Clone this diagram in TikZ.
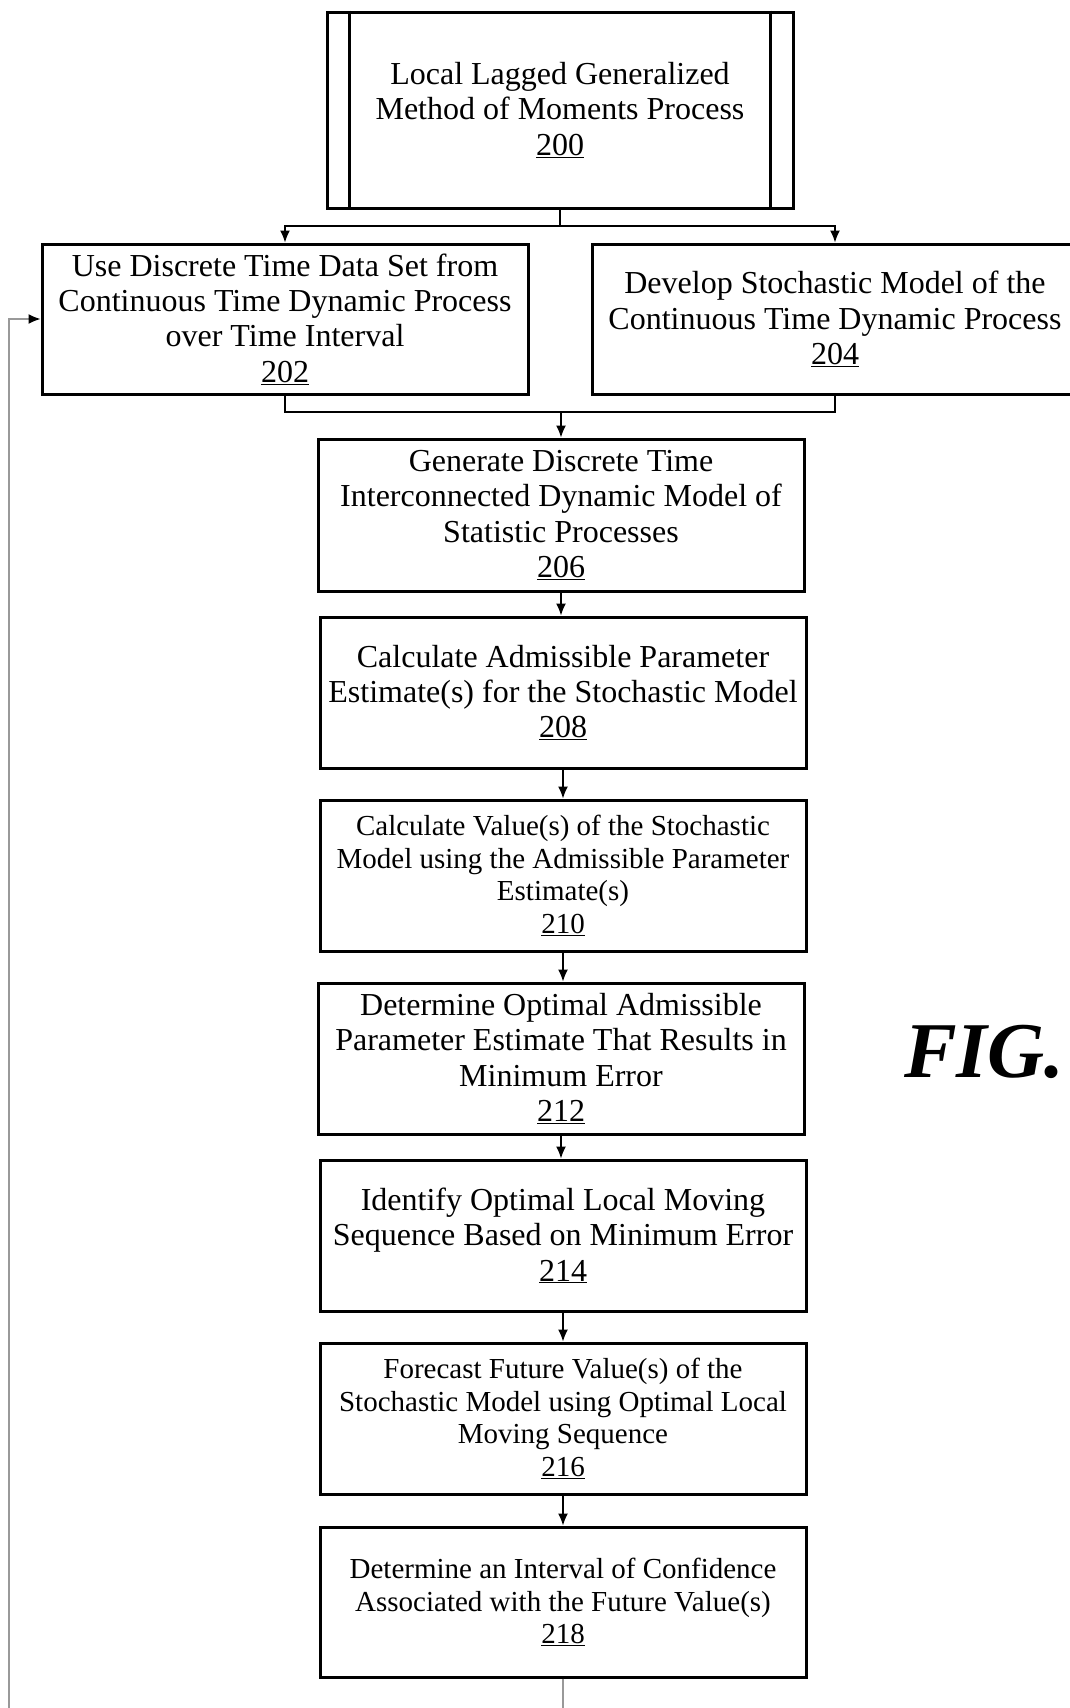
\documentclass[tikz,border=0pt]{standalone}
\usepackage{fontspec}
\setmainfont{Liberation Serif}
\usetikzlibrary{arrows.meta}
\begin{document}
\begin{tikzpicture}[x=1pt,y=-1pt,
  box/.style={draw,line width=3pt,minimum width=486pt,inner sep=0pt,align=center,
    font=\fontsize{32}{35.4}\selectfont},
  sbox/.style={box,font=\fontsize{29}{32.7}\selectfont},
  arr/.style={line width=1.4pt,-{Latex[length=12pt,width=10pt]}},
  ln/.style={line width=1.4pt},
  fb/.style={line width=1.3pt,draw=gray!80}]
\clip (0,0) rectangle (1070,1708);
\fill[white] (0,0) rectangle (1070,1708);
% top box
\node[draw,line width=3pt,minimum width=466pt,minimum height=196pt,inner sep=0pt,align=center,
  font=\fontsize{32}{35.4}\selectfont] (b200) at (560,110)
  {Local Lagged Generalized\\Method of Moments Process\\\underline{200}};
\draw[line width=2.4pt] ([xshift=24pt]b200.north west) -- ([xshift=24pt]b200.south west);
\draw[line width=2.4pt] ([xshift=-24pt]b200.north east) -- ([xshift=-24pt]b200.south east);
\node[box,minimum height=150pt] (b202) at (285,319)
  {Use Discrete Time Data Set from\\Continuous Time Dynamic Process\\over Time Interval\\\underline{202}};
\node[box,minimum height=150pt] (b204) at (835,319)
  {Develop Stochastic Model of the\\Continuous Time Dynamic Process\\\underline{204}};
\node[box,minimum height=152pt] (b206) at (561,515)
  {Generate Discrete Time\\Interconnected Dynamic Model of\\Statistic Processes\\\underline{206}};
\node[box,minimum height=151pt] (b208) at (563,692.5)
  {Calculate Admissible Parameter\\Estimate(s) for the Stochastic Model\\\underline{208}};
\node[sbox,minimum height=151pt] (b210) at (563,875.5)
  {Calculate Value(s) of the Stochastic\\Model using the Admissible Parameter\\Estimate(s)\\\underline{210}};
\node[box,minimum height=151pt] (b212) at (561,1058.5)
  {Determine Optimal Admissible\\Parameter Estimate That Results in\\Minimum Error\\\underline{212}};
\node[box,minimum height=151pt] (b214) at (563,1235.5)
  {Identify Optimal Local Moving\\Sequence Based on Minimum Error\\\underline{214}};
\node[sbox,minimum height=151pt] (b216) at (563,1418.5)
  {Forecast Future Value(s) of the\\Stochastic Model using Optimal Local\\Moving Sequence\\\underline{216}};
\node[sbox,minimum height=150pt] (b218) at (563,1602)
  {Determine an Interval of Confidence\\Associated with the Future Value(s)\\\underline{218}};
% FIG label
\node[anchor=base west,inner sep=0pt,font=\fontsize{79}{80}\selectfont\bfseries\itshape] (fig) at (904,1077) {FIG.};
% connectors
\coordinate (split) at (560,226);
\draw[ln] (b200.south) -- (split);
\draw[arr] (split) -| (b202.north);
\draw[arr] (split) -| (b204.north);
\coordinate (merge) at (561,412);
\draw[ln] (b202.south) |- (merge);
\draw[ln] (b204.south) |- (merge);
\draw[arr] (merge) -- (b206.north);
\draw[arr] (b206.south) -- (b206.south |- b208.north);
\draw[arr] (b208.south) -- (b208.south |- b210.north);
\draw[arr] (b210.south) -- (b210.south |- b212.north);
\draw[arr] (b212.south) -- (b212.south |- b214.north);
\draw[arr] (b214.south) -- (b214.south |- b216.north);
\draw[arr] (b216.south) -- (b216.south |- b218.north);
\coordinate (bot) at (563,1708);
\draw[fb] (b218.south) -- (bot);
\coordinate (fbbot) at (9,1708);
\coordinate (fbtop) at (9,319);
\draw[fb] (fbbot) -- (fbtop) -- ([xshift=-10pt]b202.west);
\draw[arr] ([xshift=-12pt]b202.west) -- (b202.west);
\end{tikzpicture}
\end{document}
